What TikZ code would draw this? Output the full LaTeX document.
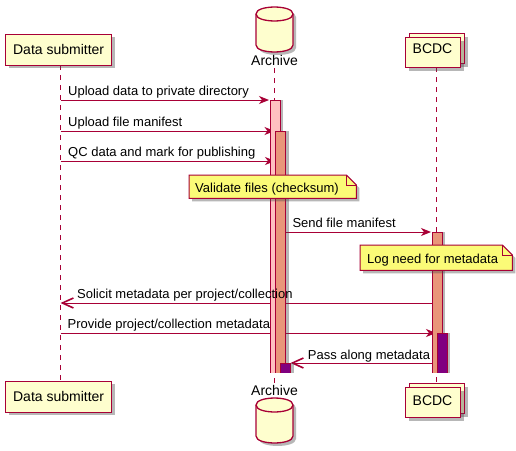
\documentclass[tikz,border=0pt]{standalone}
\usepackage{fontspec}
\setmainfont{Liberation Sans}
\usetikzlibrary{arrows.meta,shadows}
\definecolor{bord}{HTML}{A80036}
\definecolor{partfill}{HTML}{FEFECE}
\definecolor{notefill}{HTML}{FBFB77}
\definecolor{pinkbar}{HTML}{FFC0C0}
\definecolor{salmonbar}{HTML}{E9967A}
\definecolor{purplebar}{HTML}{800080}
\tikzset{
  shad/.style={drop shadow={shadow xshift=3pt,shadow yshift=-3pt,opacity=0.4,fill=black!70}},
  partbox/.style={draw=bord,fill=partfill,line width=1.3pt,rectangle,inner sep=0pt,shad,
    font=\fontsize{14}{16}\selectfont},
  plabel/.style={inner sep=0pt,font=\fontsize{14}{16}\selectfont},
  mtext/.style={inner sep=0pt,anchor=base west,font=\fontsize{13}{15}\selectfont},
  bar/.style={rectangle,inner sep=0pt,minimum width=10pt,anchor=north west,
    drop shadow={shadow xshift=3pt,shadow yshift=0pt,opacity=0.4,fill=black!70}},
  barline/.style={draw=bord,line width=1pt},
  lifeln/.style={draw=bord,line width=1pt,dash pattern=on 5pt off 5pt},
  msg/.style={draw=bord,line width=1pt,-{Stealth[length=10pt,width=8pt,inset=3pt,fill=bord]}},
  msgo/.style={draw=bord,line width=1pt,-{Straight Barb[length=11pt,width=10pt,line width=1.6pt]}},
  notefr/.style={inner sep=0pt,anchor=north west},
  notebox/.style={draw=bord,fill=notefill,line width=1pt,line join=miter,shad},
  foldln/.style={draw=bord,line width=1pt},
  dbpic/.pic={
    \path[draw=bord,fill=partfill,line width=1.3pt,shad]
      (0,7) -- (0,38) .. controls (0,47.3) and (37,47.3) .. (37,38)
      -- (37,7) .. controls (37,-2.3) and (0,-2.3) .. (0,7) -- cycle;
    \draw[draw=bord,line width=1.3pt] (0,7) .. controls (0,16.3) and (37,16.3) .. (37,7);
  }
}
\begin{document}
\begin{tikzpicture}[x=1pt,y=-1pt]
\useasboundingbox (0,0) rectangle (516,450);
\fill[white] (0,0) rectangle (516,450);

% lifeline coordinates
\coordinate (dsTop) at (60.5,65);
\coordinate (dsBot) at (60.5,380);
\coordinate (arTop) at (274.5,68);
\coordinate (arBot) at (274.5,384);
\coordinate (bcTop) at (436.5,67);
\coordinate (bcBot) at (436.5,383);

\draw[lifeln] (dsTop) -- (dsBot);
\draw[lifeln] (arTop) -- (arBot);
\draw[lifeln] (bcTop) -- (bcBot);

% participants (top)
\node[partbox,minimum width=106pt,minimum height=31pt,anchor=north west] (dsT) at (5,33.5) {Data submitter};
\pic at (256,7) {dbpic};
\node[plabel,anchor=base] (arTl) at (274.5,65) {Archive};
\node[partbox,minimum width=55pt,minimum height=30pt,anchor=north west] (bcTback) at (409,33) {};
\node[partbox,minimum width=55pt,minimum height=30pt,anchor=north west] (bcT) at (405,37) {};
\node[plabel,anchor=base] (bcTl) at (432.5,53.3) {BCDC};

% participants (bottom)
\node[partbox,minimum width=106pt,minimum height=31pt,anchor=north west] (dsB) at (5,380.5) {Data submitter};
\node[plabel,anchor=base] (arBl) at (274.5,395) {Archive};
\pic at (256,398) {dbpic};
\node[partbox,minimum width=55pt,minimum height=30pt,anchor=north west] (bcBback) at (409,383) {};
\node[partbox,minimum width=55pt,minimum height=30pt,anchor=north west] (bcB) at (405,387) {};
\node[plabel,anchor=base] (bcBl) at (432.5,405.7) {BCDC};

% message coordinates
\coordinate (m3e) at (275,161);
\coordinate (m5s) at (432,303);

% message lines (drawn below activation bars)
\draw[msg,shorten >=1pt] (dsTop |- 0,100) -- (270,100);
\draw[msg,shorten >=1pt] (dsTop |- 0,131) -- (275.5,131);
\draw[msg] (dsTop |- m3e) -- (m3e);
\draw[msg,shorten >=1pt] (285.5,232) -- (432,232);
\draw[msgo] (m5s) -- (dsTop |- m5s);
\draw[msg,shorten >=1pt] (dsTop |- 0,333) -- (437,333);
\draw[msgo] (437,363) -- (290.5,363);

% activation bars (open at the bottom)
\node[bar,fill=pinkbar,minimum height=272.5pt] (a1) at (270,100) {};
\draw[barline] (a1.south west) -- (a1.north west) -- (a1.north east) -- (a1.south east);
\node[bar,fill=salmonbar,minimum height=241.5pt] (a2) at (275.5,131) {};
\draw[barline] (a2.south west) -- (a2.north west) -- (a2.north east) -- (a2.south east);
\node[bar,fill=purplebar,minimum height=9.5pt] (a3) at (280.5,363) {};
\draw[barline] (a3.south west) -- (a3.north west) -- (a3.north east) -- (a3.south east);
\node[bar,fill=salmonbar,minimum height=140.5pt] (b1) at (432,232) {};
\draw[barline] (b1.south west) -- (b1.north west) -- (b1.north east) -- (b1.south east);
\node[bar,fill=purplebar,minimum height=39.5pt] (b2) at (437,333) {};
\draw[barline] (b2.south west) -- (b2.north west) -- (b2.north east) -- (b2.south east);

% notes
\node[notefr,minimum width=167pt,minimum height=23pt] (n1) at (189,175) {};
\path[notebox] (n1.south west) -- (n1.north west) -- ([xshift=-10pt]n1.north east)
  -- ([yshift=-10pt]n1.north east) -- (n1.south east) -- cycle;
\draw[foldln] ([xshift=-10pt]n1.north east) -- ([xshift=-10pt,yshift=-10pt]n1.north east) -- ([yshift=-10pt]n1.north east);
\node[mtext] (n1t) at (195,192.3) {Validate files (checksum)};

\node[notefr,minimum width=152pt,minimum height=25pt] (n2) at (360,245) {};
\path[notebox] (n2.south west) -- (n2.north west) -- ([xshift=-10pt]n2.north east)
  -- ([yshift=-10pt]n2.north east) -- (n2.south east) -- cycle;
\draw[foldln] ([xshift=-10pt]n2.north east) -- ([xshift=-10pt,yshift=-10pt]n2.north east) -- ([yshift=-10pt]n2.north east);
\node[mtext] (n2t) at (367,263.3) {Log need for metadata};

% message labels
\node[mtext] (t1) at (68,95.5) {Upload data to private directory};
\node[mtext] (t2) at (68,126.5) {Upload file manifest};
\node[mtext] (t3) at (68,156.5) {QC data and mark for publishing};
\node[mtext] (t4) at (292.3,227.3) {Send file manifest};
\node[mtext] (t5) at (77,298) {Solicit metadata per project/collection};
\node[mtext] (t6) at (67.5,328.5) {Provide project/collection metadata};
\node[mtext] (t7) at (307.7,359) {Pass along metadata};
\end{tikzpicture}
\end{document}
